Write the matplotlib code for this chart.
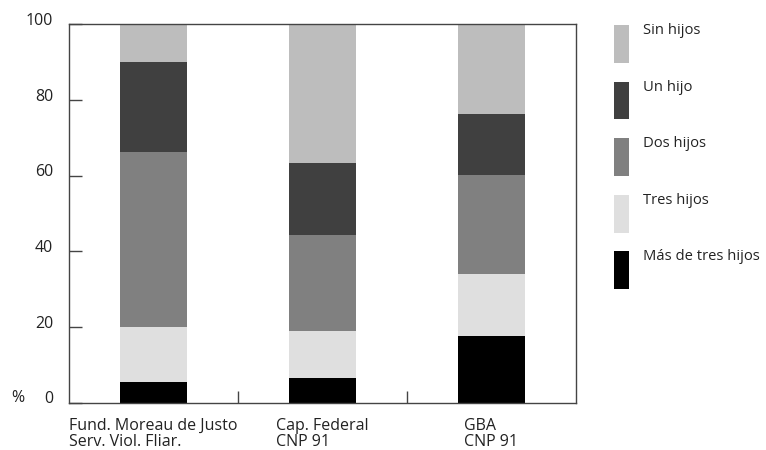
import numpy as np
import matplotlib
matplotlib.use("Agg")
import matplotlib.pyplot as plt
from matplotlib.patches import Rectangle
import matplotlib.transforms as mtransforms

plt.rcParams['font.family'] = ['Open Sans', 'DejaVu Sans']

groups = ["Fund. Moreau de Justo\nServ. Viol. Fliar.", "Cap. Federal\nCNP 91", "GBA\nCNP 91"]
series = ["Más de tres hijos", "Tres hijos", "Dos hijos", "Un hijo", "Sin hijos"]
mas_de_tres = [5.5, 6.6, 17.6]
tres = [14.5, 12.4, 16.4]
dos = [46.3, 25.3, 26.2]
uno = [23.8, 19.1, 16.1]
sin = [9.9, 36.6, 23.7]
yticks = [0, 20, 40, 60, 80, 100]

values = [mas_de_tres, tres, dos, uno, sin]
colors = ["#000000", "#dfdfdf", "#808080", "#404040", "#bdbdbd"]
fs = 11.5
tc = "#222222"

fig = plt.figure(figsize=(7.66, 4.5), dpi=100)
ax = fig.add_axes([0.0905, 0.1051, 0.661, 0.8405])

x = np.arange(len(groups))
bottom = np.zeros(len(groups))
for vals, c in zip(values, colors):
    ax.bar(x, vals, width=0.4, bottom=bottom, color=c, linewidth=0)
    bottom += np.array(vals)

ax.set_xlim(-0.5, 2.5)
ax.set_ylim(0, 100)
for s in ax.spines.values():
    s.set_color("#444444")
    s.set_linewidth(1.0)

ax.set_yticks(yticks)
ax.tick_params(axis='y', direction='in', length=9, width=1, color="#444444",
               pad=11.5, labelsize=fs, labelcolor=tc)
offset = mtransforms.ScaledTranslation(0, 4 / 72, fig.dpi_scale_trans)
for lab in ax.get_yticklabels():
    lab.set_transform(lab.get_transform() + offset)

ax.set_xticks(x)
ax.set_xticklabels(groups, ha='center', multialignment='left', linespacing=1.0)
ax.tick_params(axis='x', which='major', length=0, pad=11, labelsize=fs, labelcolor=tc)
ax.set_xticks([0.5, 1.5], minor=True)
ax.tick_params(axis='x', which='minor', direction='in', length=9, width=1, color="#444444")

fig.text(11 / 766, 1 - 398 / 450, "%", fontsize=fs, color=tc, va='center')

# legend, top to bottom
for i, (name, c) in enumerate(zip(series[::-1], colors[::-1])):
    top = 25 + i * 56.6
    fig.add_artist(Rectangle((614 / 766, 1 - (top + 37.7) / 450), 15 / 766, 37.7 / 450,
                             transform=fig.transFigure, color=c, linewidth=0))
    fig.text(643 / 766, 1 - (top - 2) / 450, name, fontsize=10.6, color=tc, va='top')

plt.savefig("out.png", dpi=100)
